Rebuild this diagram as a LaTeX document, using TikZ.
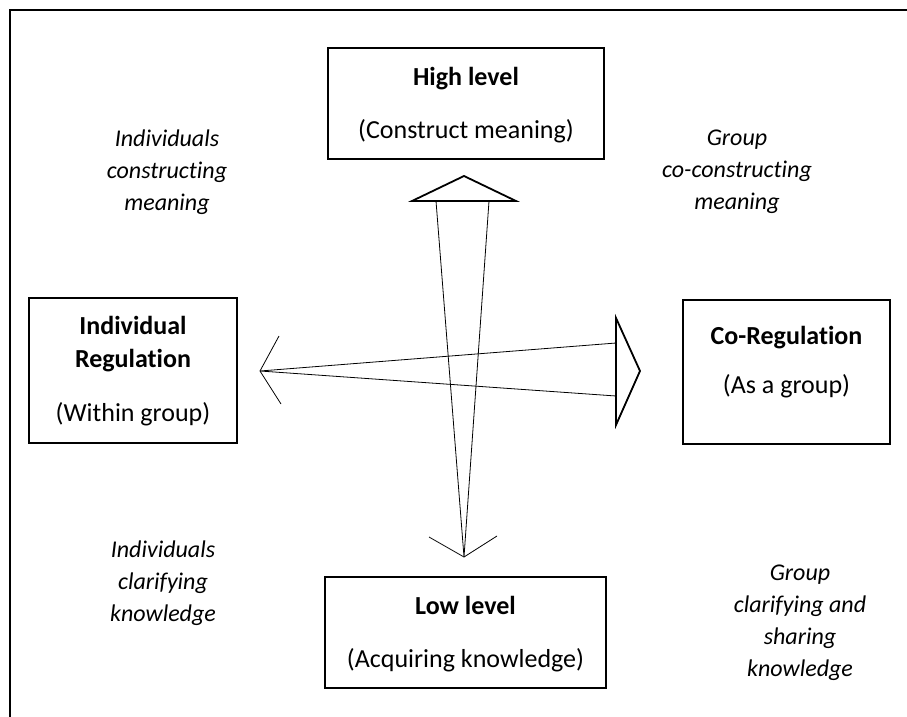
\documentclass[tikz,border=0pt]{standalone}
\usepackage{fontspec}
\setmainfont{Carlito}[RawFeature=-liga]
\begin{document}
\begin{tikzpicture}[x=1pt,y=-1pt,
  box/.style={draw,line width=1.6pt,inner sep=0pt},
  lbl/.style={font=\fontsize{24}{32}\selectfont\itshape,align=center,inner sep=0pt},
  btxt/.style={font=\fontsize{26}{33}\selectfont\bfseries,inner sep=0pt,anchor=base},
  rtxt/.style={font=\fontsize{26}{33}\selectfont,inner sep=0pt,anchor=base},
  thinline/.style={line width=0.8pt},
  headline/.style={line width=1.8pt,line join=miter}]
\useasboundingbox (0,0) rectangle (907,717);
\fill[white] (0,0) rectangle (907,717);
\draw[line width=2.4pt] (10,722) -- (10,10) -- (912,10);

% boxes
\node[box,minimum width=276pt,minimum height=111pt] (high) at (466,103.5) {};
\node[box,minimum width=208pt,minimum height=145pt] (indiv) at (133,370.5) {};
\node[box,minimum width=207pt,minimum height=144pt] (coreg) at (786.5,372) {};
\node[box,minimum width=281pt,minimum height=111pt] (low) at (465.5,632.5) {};

% box texts
\node[btxt] (hightitle) at (466,85) {High level};
\node[rtxt] (highsub) at (466,138) {(Construct meaning)};
\node[btxt] (indivtitle1) at (133,334) {Individual};
\node[btxt] (indivtitle2) at (133,367) {Regulation};
\node[rtxt] (indivsub) at (133,421) {(Within group)};
\node[btxt] (coregtitle) at (786.5,344) {Co-Regulation};
\node[rtxt] (coregsub) at (786.5,393) {(As a group)};
\node[btxt] (lowtitle) at (465.5,614) {Low level};
\node[rtxt] (lowsub) at (465.5,667) {(Acquiring knowledge)};

% italic labels
\node[lbl] (tl) at (167,172) {Individuals\\constructing\\meaning};
\node[lbl] (tr) at (737,172) {Group\\co-constructing\\meaning};
\node[lbl] (bl) at (163,583) {Individuals\\clarifying\\knowledge};
\node[lbl] (br) at (800,623) {Group\\clarifying and\\sharing\\knowledge};

% arrow geometry
\coordinate (upapex) at (464,176);
\coordinate (upL) at (412,201);
\coordinate (upR) at (516,201);
\coordinate (vL) at (436,201);
\coordinate (vR) at (489,201);
\coordinate (downtip) at (464,557);
\coordinate (downarmL) at (429,537);
\coordinate (downarmR) at (497,536);
\coordinate (lefttip) at (260,371);
\coordinate (leftarmU) at (279,336);
\coordinate (leftarmD) at (281,404);
\coordinate (hU) at (616,343);
\coordinate (hD) at (616,396);
\coordinate (rtT) at (616,318);
\coordinate (rtB) at (616,425);
\coordinate (rtapex) at (640,371);

% vertical double-headed arrow
\draw[thinline] (vL) -- (downtip) -- (vR);
\draw[thinline] (downarmL) -- (downtip) -- (downarmR);
\draw[headline] (upL) -- (upapex) -- (upR) -- cycle;

% horizontal double-headed arrow
\draw[thinline] (hU) -- (lefttip) -- (hD);
\draw[thinline] (leftarmU) -- (lefttip) -- (leftarmD);
\draw[headline] (rtT) -- (rtapex) -- (rtB) -- cycle;
\end{tikzpicture}
\end{document}
